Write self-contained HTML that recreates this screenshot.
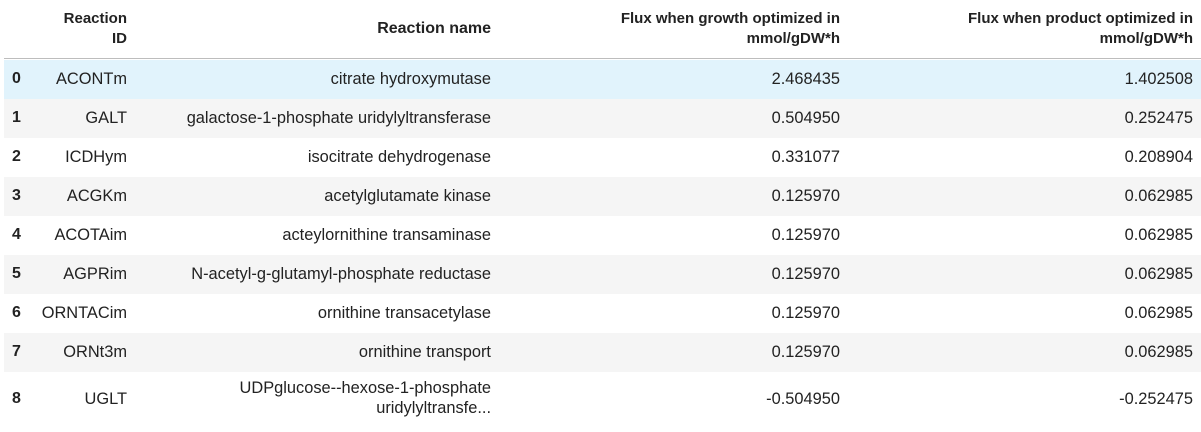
<!DOCTYPE html>
<html><head><meta charset="utf-8"><style>
body{margin:0;width:1201px;height:415px;overflow:hidden;background:#fff;font-family:"Liberation Sans",sans-serif;font-size:15px;color:#222}
.t{position:absolute;left:4px;top:0;width:1197px}
.h{position:absolute;left:0;top:0;width:1197px;height:58px;border-bottom:1.5px solid #bdbdbd}
.r{position:absolute;left:0;width:1197px;height:39px}
.c{position:absolute;text-align:right;white-space:nowrap;line-height:20px}
.d{font-size:16.4px}
.b{font-weight:bold}
.i{font-size:16px}
</style></head><body>
<div class="t" id="tbl">
<div class="h">
<div class="c b" style="right:1074px;top:9px">Reaction<br>ID</div>
<div class="c b" style="right:710px;top:19px;font-size:16px">Reaction name</div>
<div class="c b" style="right:361px;top:9px">Flux when growth optimized in<br>mmol/gDW*h</div>
<div class="c b" style="right:8px;top:9px">Flux when product optimized in<br>mmol/gDW*h</div>
</div>
</div>
<script>
const ids=["ACONTm","GALT","ICDHym","ACGKm","ACOTAim","AGPRim","ORNTACim","ORNt3m","UGLT"];
const names=["citrate hydroxymutase","galactose-1-phosphate uridylyltransferase","isocitrate dehydrogenase","acetylglutamate kinase","acteylornithine transaminase","N-acetyl-g-glutamyl-phosphate reductase","ornithine transacetylase","ornithine transport","UDPglucose--hexose-1-phosphate<br>uridylyltransfe..."];
const growth=["2.468435","0.504950","0.331077","0.125970","0.125970","0.125970","0.125970","0.125970","-0.504950"];
const product=["1.402508","0.252475","0.208904","0.062985","0.062985","0.062985","0.062985","0.062985","-0.252475"];
const t=document.getElementById('tbl');
for(let i=0;i<ids.length;i++){
 const r=document.createElement('div');r.className='r';
 
 
 r.style.top=(60+i*39)+'px';
 const tall=i==8;
 if(tall)r.style.height='60px';
 r.style.background=i==0?'#e1f3fc':(i%2==1?'#f5f5f5':'#fff');
 const ty=tall?17:9;
 r.innerHTML=`<div class="c b i" style="left:8px;top:${ty}px">${i}</div>
<div class="c d" style="right:1074px;top:${ty}px">${ids[i]}</div>
<div class="c d" style="right:710px;top:${tall?6:9}px">${names[i]}</div>
<div class="c d" style="right:361px;top:${ty}px">${growth[i]}</div>
<div class="c d" style="right:8px;top:${ty}px">${product[i]}</div>`;
 t.appendChild(r);
}
</script>
</body></html>
